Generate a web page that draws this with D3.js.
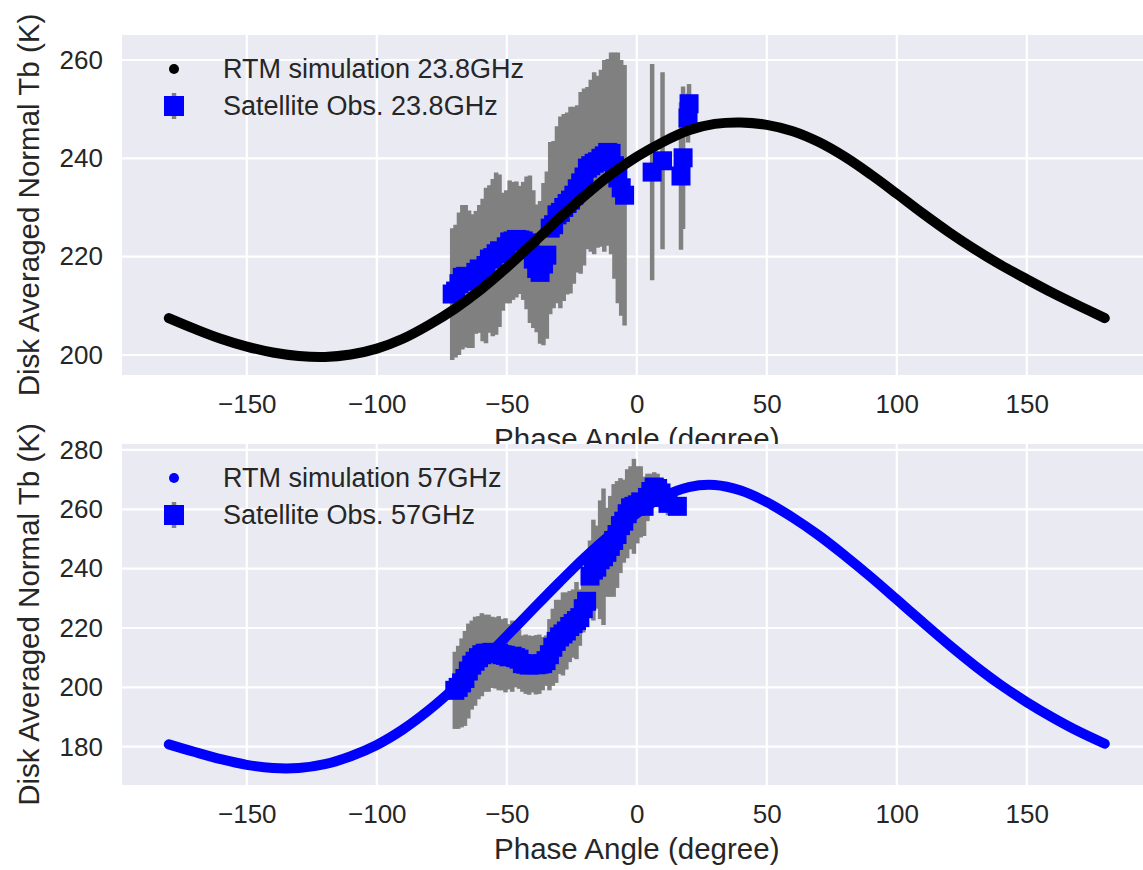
<!DOCTYPE html>
<html>
<head>
<meta charset="utf-8">
<script src="https://cdn.jsdelivr.net/npm/d3@7"></script>
<style>
  body { margin: 0; background: #fff; }
  svg { display: block; font-family: "Liberation Sans", Arial, sans-serif; }
</style>
</head>
<body>
<svg id="chart"></svg>
<script>
// phase angle grid of the RTM runs (degree)
const phaseGrid = [-180, -170, -160, -150, -140, -130, -120, -110, -100, -90, -80, -70, -60, -50, -40, -30, -20, -10,
  0, 10, 20, 30, 40, 50, 60, 70, 80, 90, 100, 110, 120, 130, 140, 150, 160, 170, 180]

// RTM simulation, disk averaged Tb (K)
const rtm238 = [207.5, 205.3, 203.3, 201.7, 200.5, 199.8, 199.6, 200.1, 201.3, 203.3, 206.1, 209.4, 213.3, 217.8, 222.7, 227.7, 232.4, 236.7,
  240.3, 243.3, 245.7, 247.0, 247.3, 246.8, 245.5, 243.3, 240.3, 236.7, 232.8, 228.8, 225.0, 221.5, 218.3, 215.4, 212.6, 210.0, 207.5]
const rtm57 = [180.8, 178.2, 175.8, 173.9, 172.8, 172.8, 174.1, 176.8, 180.6, 185.8, 192.3, 199.9, 208.4, 217.3, 226.3, 235.2, 243.8, 251.6,
  258.6, 264.2, 267.5, 268.2, 266.3, 262.4, 257.2, 251.2, 244.4, 237.2, 229.6, 221.9, 214.4, 207.3, 200.8, 195.0, 189.8, 185.1, 181.0]

// satellite observations 23.8GHz
const obs238Phase = [-71.0, -69.7, -68.4, -67.1, -65.8, -64.5, -63.2, -61.9, -60.6, -59.3, -58.0, -56.7, -55.4, -54.1, -52.8, -51.5,
  -50.2, -48.9, -47.6, -46.3, -45.0, -43.7, -42.4, -41.1, -39.8, -38.5, -37.2, -35.9, -34.6, -33.3, -32.0, -30.7, -29.4, -28.1,
  -26.8, -25.5, -24.2, -22.9, -21.6, -20.3, -19.0, -17.7, -16.4, -15.1, -13.8, -12.5, -11.2, -9.9, -8.6, -7.3, -6.0, -4.7,
  5.9, 9.9, 17.0, 17.8, 19.7, 20.1]
const obs238Tb = [212.4, 213.0, 214.5, 215.8, 216.0, 215.4, 215.0, 216.8, 217.5, 217.3, 218.2, 219.5, 219.8, 220.6, 221.2, 221.0,
  222.0, 223.0, 223.2, 223.5, 223.4, 223.2, 222.8, 221.5, 219.5, 217.6, 216.8, 218.5, 220.3, 225.8, 226.5, 228.5, 229.0, 230.0,
  230.8, 231.5, 232.5, 233.8, 235.0, 236.2, 238.0, 238.5, 239.0, 239.3, 240.0, 240.5, 241.2, 241.0, 238.5, 236.0, 234.0, 232.5,
  237.2, 239.5, 236.4, 240.1, 248.2, 251.1]
const obs238Err = [13.4, 13.5, 14.5, 14.7, 14.5, 14.0, 13.6, 12.5, 13.0, 14.5, 15.8, 15.0, 16.0, 16.5, 15.5, 12.0,
  11.5, 12.5, 12.0, 11.8, 11.0, 12.0, 13.5, 15.0, 14.0, 13.0, 14.5, 16.5, 17.0, 17.5, 17.0, 18.0, 19.5, 19.0,
  18.5, 19.0, 18.0, 17.0, 18.5, 18.0, 16.5, 17.5, 18.5, 17.5, 18.0, 19.5, 19.0, 20.5, 23.0, 25.5, 26.0, 26.5,
  22.0, 18.0, 15.0, 14.5, 5.0, 4.0]

// satellite observations 57GHz
const obs57Phase = [-70.0, -68.7, -67.4, -66.1, -64.8, -63.5, -62.2, -60.9, -59.6, -58.3, -57.0, -55.7, -54.4, -53.1, -51.8, -50.5,
  -49.2, -47.9, -46.6, -45.3, -44.0, -42.7, -41.4, -40.1, -38.8, -37.5, -36.2, -34.9, -33.6, -32.3, -31.0, -29.7, -28.4, -27.1,
  -25.8, -24.5, -23.2, -21.9, -20.6, -19.3, -18.0, -16.7, -15.4, -14.1, -12.8, -11.5, -10.2, -8.9, -7.6, -6.3, -5.0, -3.7,
  -2.4, -1.1, 0.2, 1.5, 2.8, 4.1, 5.4, 6.7, 8.0, 9.3, 10.6, 12.0, 15.6]
const obs57Tb = [199.0, 200.0, 201.5, 203.0, 205.5, 207.5, 208.8, 210.0, 211.0, 211.5, 211.5, 211.8, 211.6, 211.5, 211.0, 210.8,
  210.3, 210.5, 210.0, 209.5, 208.0, 207.8, 207.5, 207.8, 207.6, 207.8, 208.0, 209.0, 211.0, 213.5, 215.5, 217.0, 218.0, 219.0,
  220.5, 221.5, 222.5, 223.5, 226.5, 229.0, 237.5, 239.5, 240.5, 243.0, 244.0, 245.5, 247.5, 249.5, 251.5, 254.5, 256.0, 258.5,
  260.5, 261.0, 261.5, 262.5, 261.0, 264.0, 266.0, 267.5, 267.0, 265.5, 264.0, 262.0, 261.0]
const obs57Err = [13, 14, 15, 16, 16, 15, 15, 14, 14, 13, 13, 12, 12, 12.5, 12, 12.5,
  11, 12, 10, 10, 9.5, 10, 10, 9.5, 10, 10, 9, 8.5, 12, 13, 14, 12.5, 14, 13,
  12, 11.5, 13, 9.5, 8, 8, 12, 17, 14, 20, 23, 15, 17, 19, 18, 16, 14, 15,
  14, 16, 13, 12, 10, 8, 6, 5, 5, 5, 4, 4, 3]

const xTicks = [-150, -100, -50, 0, 50, 100, 150]

const width = 1143
const height = 870
const left = 122
const right = 1151.6

const svg = d3.select('#chart').attr('width', width).attr('height', height)

const x = d3.scaleLinear().domain([-198, 198]).range([left, right])

const textColor = '#262626'

function drawPanel(p) {
  const y = d3.scaleLinear().domain(p.yDomain).range([p.bottom, p.top])
  const g = svg.append('g')

  g.append('rect')
    .attr('x', left)
    .attr('y', p.top)
    .attr('width', right - left)
    .attr('height', p.bottom - p.top)
    .attr('fill', '#eaeaf2')

  // grid
  g.append('g')
    .selectAll('line.vx')
    .data(xTicks)
    .enter()
    .append('line')
    .attr('x1', d => x(d))
    .attr('x2', d => x(d))
    .attr('y1', p.top)
    .attr('y2', p.bottom)
    .attr('stroke', '#fff')
    .attr('stroke-width', 2.2)
  g.append('g')
    .selectAll('line.hy')
    .data(p.yTicks)
    .enter()
    .append('line')
    .attr('x1', left)
    .attr('x2', right)
    .attr('y1', d => y(d))
    .attr('y2', d => y(d))
    .attr('stroke', '#fff')
    .attr('stroke-width', 2.2)

  // axes (labels only)
  const xAxis = g.append('g')
    .attr('transform', `translate(0,${p.bottom})`)
    .call(d3.axisBottom(x).tickValues(xTicks).tickSize(0).tickPadding(20))
  const yAxis = g.append('g')
    .attr('transform', `translate(${left},0)`)
    .call(d3.axisLeft(y).tickValues(p.yTicks).tickSize(0).tickPadding(19))
  ;[xAxis, yAxis].forEach(a => {
    a.select('.domain').remove()
    a.selectAll('text')
      .attr('fill', textColor)
      .attr('font-size', 26)
      .attr('font-family', '"Liberation Sans", Arial, sans-serif')
  })

  g.append('text')
    .text('Phase Angle (degree)')
    .attr('x', (left + right) / 2)
    .attr('y', p.bottom + 74)
    .attr('text-anchor', 'middle')
    .attr('font-size', 29.5)
    .attr('fill', textColor)

  g.append('text')
    .text('Disk Averaged Normal Tb (K)')
    .attr('transform', `translate(39,${(p.top + p.bottom) / 2}) rotate(-90)`)
    .attr('text-anchor', 'middle')
    .attr('font-size', 29.5)
    .attr('fill', textColor)

  // observations with error bars
  const obs = p.obsPhase.map((d, i) => ({ phase: d, tb: p.obsTb[i], err: p.obsErr[i] }))
  g.append('g')
    .selectAll('line')
    .data(obs)
    .enter()
    .append('line')
    .attr('x1', d => x(d.phase))
    .attr('x2', d => x(d.phase))
    .attr('y1', d => y(d.tb - d.err))
    .attr('y2', d => y(d.tb + d.err))
    .attr('stroke', 'gray')
    .attr('stroke-width', 4.5)
  const sq = 19
  g.append('g')
    .selectAll('rect')
    .data(obs)
    .enter()
    .append('rect')
    .attr('x', d => x(d.phase) - sq / 2)
    .attr('y', d => y(d.tb) - sq / 2)
    .attr('width', sq)
    .attr('height', sq)
    .attr('fill', 'blue')

  // RTM curve
  const line = d3.line()
    .x((d, i) => x(phaseGrid[i]))
    .y(d => y(d))
    .curve(d3.curveCatmullRom)
  g.append('path')
    .datum(p.rtm)
    .attr('d', line)
    .attr('fill', 'none')
    .attr('stroke', p.rtmColor)
    .attr('stroke-width', 10)
    .attr('stroke-linecap', 'round')
    .attr('stroke-linejoin', 'round')

  // legend
  const lg = g.append('g')
  const r1 = p.top + 34
  const r2 = p.top + 71
  lg.append('circle').attr('cx', 174).attr('cy', r1).attr('r', 5).attr('fill', p.rtmColor)
  lg.append('line')
    .attr('x1', 174).attr('x2', 174)
    .attr('y1', r2 - 13).attr('y2', r2 + 13)
    .attr('stroke', 'gray').attr('stroke-width', 4.5)
  lg.append('rect')
    .attr('x', 174 - 10).attr('y', r2 - 10)
    .attr('width', 20).attr('height', 20)
    .attr('fill', 'blue')
  lg.selectAll('text')
    .data([[p.rtmLabel, r1], [p.obsLabel, r2]])
    .enter()
    .append('text')
    .text(d => d[0])
    .attr('x', 223)
    .attr('y', d => d[1])
    .attr('dy', '0.35em')
    .attr('font-size', 27)
    .attr('fill', textColor)
}

drawPanel({
  top: 35,
  bottom: 375,
  yDomain: [195.93, 265.08],
  yTicks: [200, 220, 240, 260],
  rtm: rtm238,
  rtmColor: 'black',
  obsPhase: obs238Phase,
  obsTb: obs238Tb,
  obsErr: obs238Err,
  rtmLabel: 'RTM simulation 23.8GHz',
  obsLabel: 'Satellite Obs. 23.8GHz'
})

drawPanel({
  top: 444,
  bottom: 785,
  yDomain: [167.1, 282.0],
  yTicks: [180, 200, 220, 240, 260, 280],
  rtm: rtm57,
  rtmColor: 'blue',
  obsPhase: obs57Phase,
  obsTb: obs57Tb,
  obsErr: obs57Err,
  rtmLabel: 'RTM simulation 57GHz',
  obsLabel: 'Satellite Obs. 57GHz'
})
</script>
</body>
</html>
